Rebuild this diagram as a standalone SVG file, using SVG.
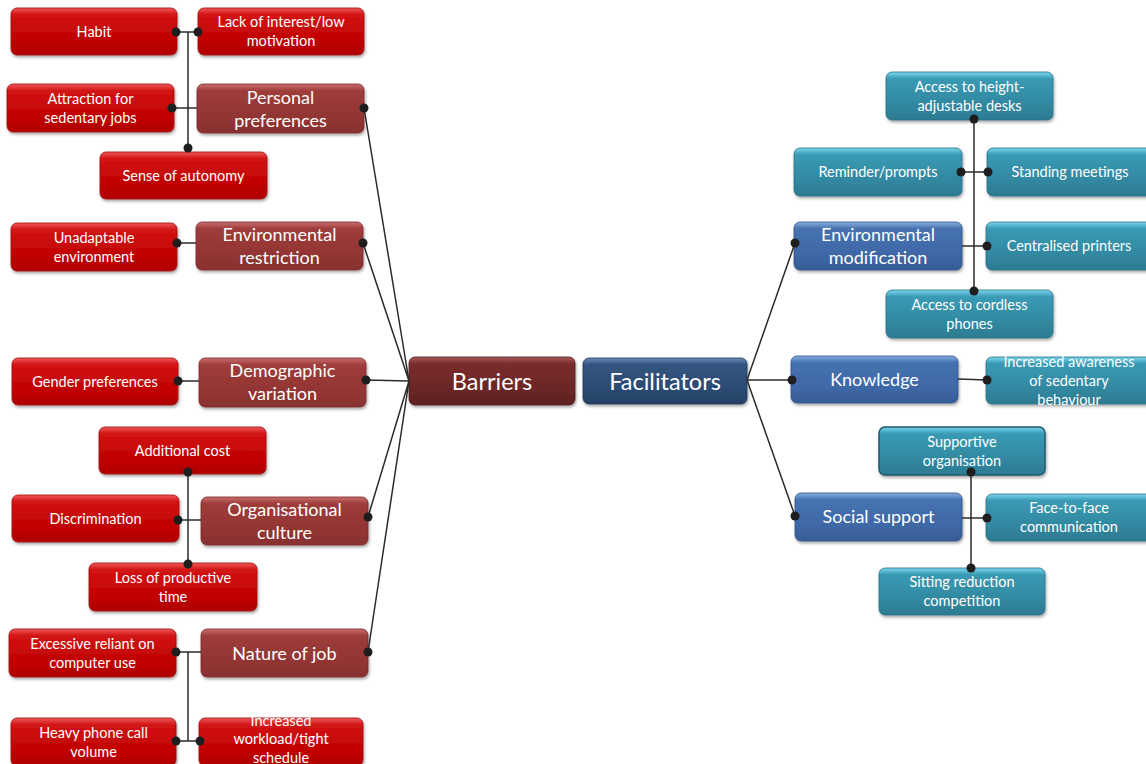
<svg xmlns="http://www.w3.org/2000/svg" width="1146" height="764" viewBox="0 0 1146 764">
<defs>
<linearGradient id="gR" x1="0" y1="0" x2="0" y2="1">
<stop offset="0" stop-color="#F0585A"/><stop offset="0.14" stop-color="#D21414"/><stop offset="0.7" stop-color="#C00000"/><stop offset="1" stop-color="#B00404"/>
</linearGradient>
<linearGradient id="gMR" x1="0" y1="0" x2="0" y2="1">
<stop offset="0" stop-color="#C8706E"/><stop offset="0.14" stop-color="#9E3C3A"/><stop offset="0.7" stop-color="#923533"/><stop offset="1" stop-color="#883130"/>
</linearGradient>
<linearGradient id="gBar" x1="0" y1="0" x2="0" y2="1">
<stop offset="0" stop-color="#A85A58"/><stop offset="0.14" stop-color="#7A2D2D"/><stop offset="0.7" stop-color="#6A2626"/><stop offset="1" stop-color="#5E2020"/>
</linearGradient>
<linearGradient id="gFac" x1="0" y1="0" x2="0" y2="1">
<stop offset="0" stop-color="#6A8CBC"/><stop offset="0.14" stop-color="#34557F"/><stop offset="0.7" stop-color="#2B4A72"/><stop offset="1" stop-color="#243F63"/>
</linearGradient>
<linearGradient id="gMB" x1="0" y1="0" x2="0" y2="1">
<stop offset="0" stop-color="#86AEE0"/><stop offset="0.14" stop-color="#4672B0"/><stop offset="0.7" stop-color="#3E67A6"/><stop offset="1" stop-color="#375C95"/>
</linearGradient>
<linearGradient id="gT" x1="0" y1="0" x2="0" y2="1">
<stop offset="0" stop-color="#7AD8EE"/><stop offset="0.14" stop-color="#3A9AB4"/><stop offset="0.7" stop-color="#31879F"/><stop offset="1" stop-color="#2C7B91"/>
</linearGradient>
<filter id="sh" x="-10%" y="-20%" width="120%" height="150%">
<feDropShadow dx="1" dy="2" stdDeviation="1.6" flood-color="#000" flood-opacity="0.35"/>
</filter>
</defs>
<style>
rect{filter:url(#sh);}
.r{fill:url(#gR);stroke:#A01010;stroke-width:0.8;}
.mr{fill:url(#gMR);stroke:#7E2A2A;stroke-width:0.8;}
.bar{fill:url(#gBar);stroke:#501818;stroke-width:0.8;}
.fac{fill:url(#gFac);stroke:#1E3656;stroke-width:0.8;}
.mb{fill:url(#gMB);stroke:#2F5286;stroke-width:0.8;}
.t{fill:url(#gT);stroke:#276F84;stroke-width:0.8;}
text{fill:#FFFFFF;font-family:Lato,"Open Sans",sans-serif;text-anchor:middle;}
.s{font-size:14.5px;}
.m{font-size:18px;}
.c{font-size:23.5px;}
.ln{stroke:#2B2B2B;stroke-width:1.5;fill:none;}
.dot{fill:#1E1E1E;}
</style>

<g id="node-habit"><rect class="r" x="11" y="8" width="166" height="47" rx="6"/><text class="s" x="94" y="36.5">Habit</text></g>
<g id="node-lack"><rect class="r" x="198" y="8" width="166" height="47" rx="6"/><text class="s" x="281" y="27">Lack of interest/low</text><text class="s" x="281" y="46">motivation</text></g>
<g id="node-attraction"><rect class="r" x="7" y="84" width="167" height="48" rx="6"/><text class="s" x="90.5" y="103.5">Attraction for</text><text class="s" x="90.5" y="122.5">sedentary jobs</text></g>
<g id="node-autonomy"><rect class="r" x="100" y="152" width="167" height="47" rx="6"/><text class="s" x="183.5" y="180.5">Sense of autonomy</text></g>
<g id="node-unadaptable"><rect class="r" x="11" y="223" width="166" height="48" rx="6"/><text class="s" x="94" y="242.5">Unadaptable</text><text class="s" x="94" y="261.5">environment</text></g>
<g id="node-gender"><rect class="r" x="12" y="358" width="166" height="47" rx="6"/><text class="s" x="95" y="386.5">Gender preferences</text></g>
<g id="node-addcost"><rect class="r" x="99" y="427" width="167" height="47" rx="6"/><text class="s" x="182.5" y="455.5">Additional cost</text></g>
<g id="node-discrimination"><rect class="r" x="12" y="495" width="167" height="47" rx="6"/><text class="s" x="95.5" y="523.5">Discrimination</text></g>
<g id="node-lossprod"><rect class="r" x="89" y="563" width="168" height="48" rx="6"/><text class="s" x="173" y="582.5">Loss of productive</text><text class="s" x="173" y="601.5">time</text></g>
<g id="node-excessive"><rect class="r" x="9" y="629" width="167" height="48" rx="6"/><text class="s" x="92.5" y="648.5">Excessive reliant on</text><text class="s" x="92.5" y="667.5">computer use</text></g>
<g id="node-heavy"><rect class="r" x="11" y="718" width="165" height="48" rx="6"/><text class="s" x="93.5" y="737.5">Heavy phone call</text><text class="s" x="93.5" y="756.5">volume</text></g>
<g id="node-workload"><rect class="r" x="199" y="718" width="164" height="48" rx="6"/><text class="s" x="281" y="725.5">Increased</text><text class="s" x="281" y="744">workload/tight</text><text class="s" x="281" y="762.5">schedule</text></g>

<g id="node-personal"><rect class="mr" x="197" y="84" width="167" height="49" rx="6"/><text class="m" x="280.5" y="103.5">Personal</text><text class="m" x="280.5" y="126.5">preferences</text></g>
<g id="node-envrestr"><rect class="mr" x="196" y="222" width="167" height="48" rx="6"/><text class="m" x="279.5" y="240.5">Environmental</text><text class="m" x="279.5" y="263.5">restriction</text></g>
<g id="node-demog"><rect class="mr" x="199" y="358" width="167" height="49" rx="6"/><text class="m" x="282.5" y="376.5">Demographic</text><text class="m" x="282.5" y="399.5">variation</text></g>
<g id="node-orgcult"><rect class="mr" x="201" y="497" width="167" height="48" rx="6"/><text class="m" x="284.5" y="515.5">Organisational</text><text class="m" x="284.5" y="538.5">culture</text></g>
<g id="node-nature"><rect class="mr" x="201" y="629" width="167" height="48" rx="6"/><text class="m" x="284.5" y="659.5">Nature of job</text></g>

<g id="node-barriers"><rect class="bar" x="409" y="357" width="166" height="48" rx="6"/><text class="c" x="492" y="389.5">Barriers</text></g>
<g id="node-facilitators"><rect class="fac" x="583" y="358" width="164" height="46" rx="6"/><text class="c" x="665" y="389.5">Facilitators</text></g>

<g id="node-envmod"><rect class="mb" x="794" y="222" width="168" height="48" rx="6"/><text class="m" x="878" y="240.5">Environmental</text><text class="m" x="878" y="263.5">modification</text></g>
<g id="node-knowledge"><rect class="mb" x="791" y="356" width="167" height="47" rx="6"/><text class="m" x="874.5" y="386">Knowledge</text></g>
<g id="node-social"><rect class="mb" x="795" y="493" width="167" height="48" rx="6"/><text class="m" x="878.5" y="523">Social support</text></g>

<g id="node-desks"><rect class="t" x="886" y="72" width="167" height="48" rx="6"/><text class="s" x="969.5" y="91.5">Access to height-</text><text class="s" x="969.5" y="110.5">adjustable desks</text></g>
<g id="node-reminder"><rect class="t" x="794" y="148" width="168" height="48" rx="6"/><text class="s" x="878" y="177">Reminder/prompts</text></g>
<g id="node-standing"><rect class="t" x="987" y="148" width="166" height="48" rx="6"/><text class="s" x="1070" y="177">Standing meetings</text></g>
<g id="node-printers"><rect class="t" x="986" y="222" width="166" height="48" rx="6"/><text class="s" x="1069" y="251">Centralised printers</text></g>
<g id="node-cordless"><rect class="t" x="886" y="290" width="167" height="48" rx="6"/><text class="s" x="969.5" y="309.5">Access to cordless</text><text class="s" x="969.5" y="328.5">phones</text></g>
<g id="node-awareness"><rect class="t" x="986" y="357" width="166" height="47" rx="6"/><text class="s" x="1069" y="366.5">Increased awareness</text><text class="s" x="1069" y="385.5">of sedentary</text><text class="s" x="1069" y="404.5">behaviour</text></g>
<g id="node-supportive"><rect class="t" x="879" y="427" width="166" height="48" rx="6" style="stroke:#1F5A6B;stroke-width:1.5"/><text class="s" x="962" y="446.5">Supportive</text><text class="s" x="962" y="465.5">organisation</text></g>
<g id="node-facetoface"><rect class="t" x="986" y="494" width="166" height="47" rx="6"/><text class="s" x="1069" y="513">Face-to-face</text><text class="s" x="1069" y="532">communication</text></g>
<g id="node-sitting"><rect class="t" x="879" y="568" width="166" height="47" rx="6"/><text class="s" x="962" y="587">Sitting reduction</text><text class="s" x="962" y="606">competition</text></g>

<g id="connectors">
<path class="ln" d="M176 32H198M188 32V148M172 108H197"/>
<path class="ln" d="M177 243H196M178 381H199"/>
<path class="ln" d="M188 472V564M178 520H201"/>
<path class="ln" d="M188 652V741M176 652H201M176 741H200"/>
<path class="ln" d="M364 108L409 381M363 243L409 381M366 380L409 381M368 517L409 381M368 652L409 381"/>
<path class="ln" d="M747 380L795 243M747 380L792 380M747 380L795 516"/>
<path class="ln" d="M974 119V291M961 172H988M962 246H987"/>
<path class="ln" d="M958 379L987 380"/>
<path class="ln" d="M971 472V568M962 518H987"/>
<g class="dot">
<circle cx="176" cy="32" r="4.5"/><circle cx="198" cy="32" r="4.5"/><circle cx="172" cy="108" r="4.5"/><circle cx="188" cy="148" r="4.5"/>
<circle cx="177" cy="243" r="4.5"/><circle cx="178" cy="381" r="4.5"/>
<circle cx="188" cy="472" r="4.5"/><circle cx="178" cy="520" r="4.5"/><circle cx="188" cy="564" r="4.5"/>
<circle cx="176" cy="652" r="4.5"/><circle cx="176" cy="741" r="4.5"/><circle cx="200" cy="741" r="4.5"/>
<circle cx="364" cy="108" r="4.5"/><circle cx="363" cy="243" r="4.5"/><circle cx="366" cy="380" r="4.5"/><circle cx="368" cy="517" r="4.5"/><circle cx="368" cy="652" r="4.5"/>
<circle cx="795" cy="243" r="4.5"/><circle cx="792" cy="380" r="4.5"/><circle cx="795" cy="516" r="4.5"/>
<circle cx="974" cy="119" r="4.5"/><circle cx="961" cy="172" r="4.5"/><circle cx="988" cy="172" r="4.5"/><circle cx="987" cy="246" r="4.5"/><circle cx="974" cy="291" r="4.5"/>
<circle cx="987" cy="380" r="4.5"/>
<circle cx="971" cy="472" r="4.5"/><circle cx="987" cy="518" r="4.5"/><circle cx="971" cy="568" r="4.5"/>
</g>
</g>
</svg>
